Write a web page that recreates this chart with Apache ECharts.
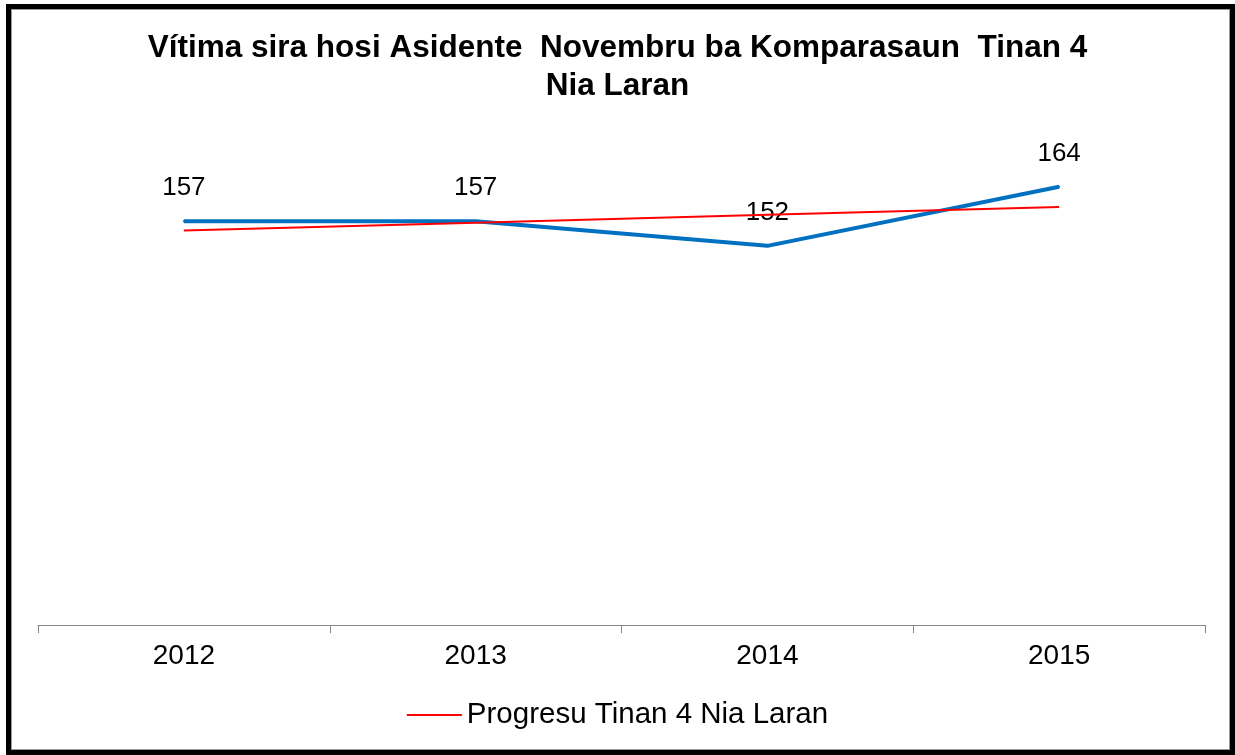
<!DOCTYPE html>
<html>
<head>
<meta charset="utf-8">
<script src="https://cdn.jsdelivr.net/npm/echarts@6/dist/echarts.min.js"></script>
<style>
  html, body { margin: 0; padding: 0; background: #fff; }
  #wrap { position: relative; width: 1235px; height: 755px; overflow: hidden; }
  #chart { position: absolute; left: 0; top: 0; width: 1235px; height: 755px; }
  #frame { position: absolute; left: 6px; top: 4px; width: 1219px; height: 741px;
           border: 5px solid #000; box-shadow: inset 0 0 0 1px #999; pointer-events: none; }
</style>
</head>
<body>
<div id="wrap">
  <div id="chart"></div>
  <div id="frame"></div>
</div>
<script>
var years = ['2012', '2013', '2014', '2015'];
var victims = [157, 157, 152, 164];
var trend = [155.1, 156.7, 158.3, 159.9];
var trendName = 'Progresu Tinan 4 Nia Laran';

var chart = echarts.init(document.getElementById('chart'));
var option = {
    animation: false,
    title: {
        text: 'Vítima sira hosi Asidente  Novembru ba Komparasaun  Tinan 4\nNia Laran',
        left: 'center',
        top: 24,
        textStyle: { fontFamily: 'Arial', fontSize: 31.5, fontWeight: 'bold', color: '#000', lineHeight: 38 }
    },
    legend: {
        data: [trendName],
        bottom: 20,
        left: 'center',
        icon: 'rect',
        itemWidth: 55,
        itemHeight: 2,
        itemGap: 5,
        textStyle: { fontFamily: 'Arial', fontSize: 29.5, color: '#000' }
    },
    grid: { left: 38, right: 30, top: 108, bottom: 130 },
    xAxis: {
        type: 'category',
        data: years,
        boundaryGap: true,
        axisLine: { lineStyle: { color: '#868686', width: 1 } },
        axisTick: { show: true, length: 8, lineStyle: { color: '#868686' } },
        axisLabel: { fontFamily: 'Arial', fontSize: 28, color: '#000', margin: 17 }
    },
    yAxis: {
        type: 'value',
        min: 75,
        max: 180,
        show: false
    },
    series: [
        {
            name: 'Vítima',
            type: 'line',
            data: victims,
            symbol: 'circle',
            symbolSize: 2,
            showSymbol: true,
            itemStyle: { color: '#0070C0' },
            lineStyle: { color: '#0070C0', width: 4 },
            label: {
                show: true,
                position: 'top',
                distance: 19,
                fontFamily: 'Arial',
                fontSize: 26,
                color: '#000'
            },
            z: 2
        },
        {
            name: trendName,
            type: 'line',
            data: trend,
            symbol: 'none',
            itemStyle: { color: '#FF0000' },
            lineStyle: { color: '#FF0000', width: 2 },
            z: 3
        }
    ]
};
chart.setOption(option);
</script>
</body>
</html>
